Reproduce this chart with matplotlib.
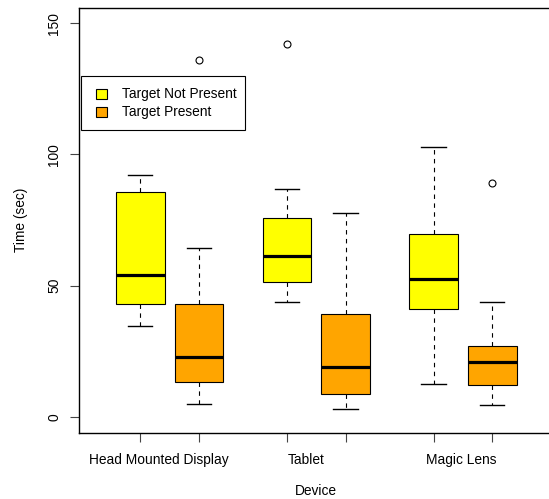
import numpy as np
import matplotlib
matplotlib.use("Agg")
import matplotlib.pyplot as plt
from matplotlib.patches import Rectangle

plt.rcParams['font.family'] = ['Liberation Sans', 'DejaVu Sans']
FS = 9.9

devices = ["Head Mounted Display", "Tablet", "Magic Lens"]
groups = ["Target Not Present", "Target Present"]
colors = ["#FFFF00", "#FFA500"]

# one entry per box: HMD (not/present), Tablet (not/present), Magic Lens (not/present)
whislo = [34.6, 4.8, 43.8, 2.9, 12.6, 4.6]
q1 = [43.0, 13.4, 51.4, 8.7, 41.0, 12.0]
med = [54.1, 22.8, 61.2, 19.1, 52.6, 20.9]
q3 = [85.8, 43.0, 75.7, 39.1, 69.6, 27.0]
whishi = [92.0, 64.5, 87.0, 77.6, 102.8, 43.8]
fliers = [[], [135.9], [142.0], [], [], [89.1]]

positions = [1, 2, 3.5, 4.5, 6, 7]
label_pos = [1.32, 3.82, 6.47]

W, H = 549, 499
fig = plt.figure(figsize=(W / 100, H / 100), dpi=100)

def fx(px):
    return px / W

def fy(py):
    return 1 - py / H

# axes box in pixels (right edge runs past the image)
L, T, R, B = 78.7, 7.5, 553.8, 432.7
ax = fig.add_axes([fx(L), fy(B), fx(R) - fx(L), fy(T) - fy(B)])

stats = []
for i in range(len(positions)):
    stats.append(dict(whislo=whislo[i], q1=q1[i], med=med[i], q3=q3[i],
                      whishi=whishi[i], fliers=fliers[i]))

bp = ax.bxp(stats, positions=positions, widths=0.83, capwidths=0.415,
            patch_artist=True, manage_ticks=False,
            boxprops=dict(edgecolor='black', linewidth=0.8),
            medianprops=dict(color='black', linewidth=2.3, solid_capstyle='butt'),
            whiskerprops=dict(color='black', linewidth=0.8, linestyle=(0, (4, 4))),
            capprops=dict(color='black', linewidth=1.0),
            flierprops=dict(marker='o', markerfacecolor='none',
                            markeredgecolor='black', markersize=5,
                            markeredgewidth=0.8))
for i, box in enumerate(bp['boxes']):
    box.set_facecolor(colors[i % 2])

ax.set_xlim(-0.05, 8.05)
ax.set_ylim(-6, 156)

ax.set_xticks(positions)
ax.set_xticklabels([''] * len(positions))
ax.set_xticks(label_pos, minor=True)
ax.set_xticklabels(devices, minor=True, fontsize=FS)
ax.tick_params(axis='x', which='major', length=6.5, width=0.8, color='#444444')
ax.tick_params(axis='x', which='minor', length=0, pad=14.5)

ax.set_yticks([0, 50, 100, 150])
ax.set_yticklabels(['0', '50', '100', '150'], fontsize=FS, rotation=90, va='center')
ax.tick_params(axis='y', length=6.5, width=0.8, pad=6, color='#444444')

for s in ax.spines.values():
    s.set_linewidth(1.0)

fig.text(fx(20.7), fy((T + B) / 2), "Time (sec)", rotation=90,
         ha='center', va='center', fontsize=FS)
fig.text(fx(316), fy(490.7), "Device", ha='center', va='center', fontsize=FS)

# legend
fig.add_artist(Rectangle((fx(81.3), fy(130)), fx(245.3) - fx(81.3), fy(75.7) - fy(130),
                         transform=fig.transFigure, facecolor='white',
                         edgecolor='black', linewidth=0.8, zorder=5))
for i, g in enumerate(groups):
    yc = [93.7, 112.0][i]
    fig.add_artist(Rectangle((fx(96), fy(yc + 5)), fx(107.3) - fx(96), fy(yc - 5) - fy(yc + 5),
                             transform=fig.transFigure, facecolor=colors[i],
                             edgecolor='black', linewidth=0.8, zorder=6))
    fig.text(fx(122.3), fy(yc), g, ha='left', va='center', fontsize=FS, zorder=6)

fig.savefig("out.png", dpi=100)
